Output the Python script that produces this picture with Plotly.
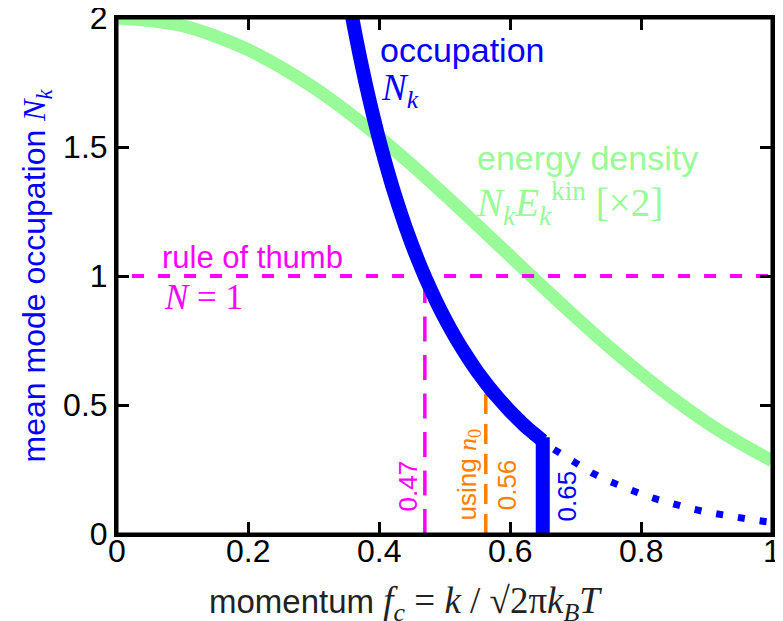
import plotly.graph_objects as go

# ---------------- data ----------------
x_ticks = [0, 0.2, 0.4, 0.6, 0.8, 1]
x_tick_labels = ["0", "0.2", "0.4", "0.6", "0.8", "1"]
y_ticks = [0, 0.5, 1, 1.5, 2]
y_tick_labels = ["0", "0.5", "1", "1.5", "2"]

# energy density N_k E_k^kin (x2), light green band
energy_x = [0.0, 0.05, 0.10, 0.15, 0.20, 0.25, 0.30, 0.35, 0.40, 0.45, 0.50,
            0.55, 0.60, 0.65, 0.70, 0.75, 0.80, 0.85, 0.90, 0.95, 1.00]
energy_y = [2.00, 1.99, 1.97, 1.93, 1.877, 1.81, 1.731, 1.64, 1.539, 1.431, 1.316,
            1.198, 1.078, 0.958, 0.841, 0.728, 0.622, 0.523, 0.433, 0.354, 0.284]

# occupation N_k, solid blue curve up to the cut-off
occ_x = [0.355, 0.36, 0.37, 0.38, 0.39, 0.40, 0.41, 0.42, 0.43, 0.44, 0.45,
         0.46, 0.47, 0.48, 0.49, 0.50, 0.51, 0.52, 0.53, 0.54, 0.55,
         0.56, 0.57, 0.58, 0.59, 0.60, 0.61, 0.62, 0.63, 0.64, 0.65]
occ_y = [2.06, 1.99, 1.861, 1.742, 1.633, 1.531, 1.438, 1.35, 1.27, 1.194, 1.124,
         1.059, 0.998, 0.942, 0.888, 0.838, 0.791, 0.747, 0.706, 0.667, 0.63,
         0.596, 0.563, 0.533, 0.504, 0.476, 0.451, 0.426, 0.403, 0.382, 0.361]

# vertical drop of the occupation at the cut-off 0.65
drop_x = [0.65, 0.65]
drop_y = [0.375, 0.0]

# occupation N_k beyond the cut-off, dotted blue
tail_x = [0.667, 0.70, 0.725, 0.75, 0.775, 0.80, 0.825, 0.85, 0.875, 0.90,
          0.925, 0.95, 0.975, 1.00]
tail_y = [0.328, 0.273, 0.237, 0.206, 0.179, 0.155, 0.134, 0.115, 0.099, 0.085,
          0.073, 0.062, 0.053, 0.045]

# rule of thumb N = 1 and the cut-offs
rule_x = [0.023, 1.0]
rule_y = [1.0, 1.0]
rule_cut_x = [0.47, 0.47]
rule_cut_y = [0.0, 1.0]
n0_cut_x = [0.563, 0.563]
n0_cut_y = [0.0, 0.59]

BLUE = "#0000ff"
GREEN = "#98fb98"
MAGENTA = "#ff00ff"
ORANGE = "#ff8000"
SANS = "Liberation Sans"
SERIF = "Liberation Serif"


def m(s, size=None):
    st = "font-family:%s" % SERIF
    if size:
        st += ";font-size:%dpx" % size
    return "<span style='%s'>%s</span>" % (st, s)


fig = go.Figure()
fig.add_trace(go.Scatter(x=energy_x, y=energy_y, mode="lines", line=dict(color=GREEN, width=13),
                         line_shape="spline", showlegend=False, hoverinfo="skip"))
fig.add_trace(go.Scatter(x=rule_x, y=rule_y, mode="lines",
                         line=dict(color=MAGENTA, width=4, dash="12px,14px"), showlegend=False))
fig.add_trace(go.Scatter(x=rule_cut_x, y=rule_cut_y, mode="lines",
                         line=dict(color=MAGENTA, width=3.5, dash="25px,13.5px"), showlegend=False))
fig.add_trace(go.Scatter(x=n0_cut_x, y=n0_cut_y, mode="lines",
                         line=dict(color=ORANGE, width=3.5, dash="20px,10px"), showlegend=False))
fig.add_trace(go.Scatter(x=tail_x, y=tail_y, mode="lines",
                         line=dict(color=BLUE, width=7, dash="7px,15px"), showlegend=False))
fig.add_trace(go.Scatter(x=occ_x, y=occ_y, mode="lines",
                         line=dict(color=BLUE, width=14, shape="spline", smoothing=0.6),
                         showlegend=False))
fig.add_trace(go.Scatter(x=drop_x, y=drop_y, mode="lines",
                         line=dict(color=BLUE, width=14), showlegend=False))

ann = []


def add(text, x, y, color, size, xanchor="left", yanchor="middle", angle=0, xref="x", yref="y",
        yshift=0):
    ann.append(dict(text=text, x=x, y=y, xref=xref, yref=yref, showarrow=False,
                    xanchor=xanchor, yanchor=yanchor, textangle=angle, yshift=yshift,
                    font=dict(family=SANS, size=size, color=color)))


# x tick labels, placed just under the axis line as in the reference
for v, lab in zip(x_ticks, x_tick_labels):
    add(lab, v, 0, "black", 32, xanchor="center", yanchor="top", yref="paper", yshift=3)

add("occupation", 0.398, 1.876, BLUE, 34)
add(m("<i>N</i><sub><i>k</i></sub>"), 0.400, 1.72, BLUE, 37)
add("energy density", 0.547, 1.457, GREEN, 34)
add(m("<i>N</i><sub><i>k</i></sub><i>E</i><sub><i>k</i></sub><sup>kin</sup> [×2]"), 0.545, 1.28, GREEN, 39)
add("rule of thumb", 0.066, 1.07, MAGENTA, 31)
add(m("<i>N</i> = 1"), 0.069, 0.915, MAGENTA, 35)
add("0.47", 0.444, 0.081, MAGENTA, 26, xanchor="center", yanchor="bottom", angle=-90)
add("using " + m("<i>n</i><sub>0</sub>"), 0.536, 0.043, ORANGE, 26, xanchor="center", yanchor="bottom", angle=-90)
add("0.56", 0.595, 0.085, ORANGE, 26, xanchor="center", yanchor="bottom", angle=-90)
add("0.65", 0.687, 0.043, BLUE, 26, xanchor="center", yanchor="bottom", angle=-90)
add("momentum " + m("<i>f</i><sub><i>c</i></sub> = <i>k</i> / √2π<i>k</i><sub><i>B</i></sub><i>T</i>", 37),
    0.44, -0.134, "#222222", 33, xanchor="center", yanchor="middle", xref="paper", yref="paper")

axis_common = dict(showline=True, linecolor="black", linewidth=3, mirror="ticks",
                   ticks="inside", ticklen=12, tickwidth=3, tickcolor="black",
                   showgrid=False, zeroline=False, automargin=False,
                   ticklabeloverflow="allow",
                   tickfont=dict(family=SANS, size=32, color="black"))

# the page body has an 8px default margin: the figure is sized so that it fits the 783x621 window
fig.update_layout(
    width=775, height=613, autosize=False,
    margin=dict(l=109, r=11, t=10, b=87),
    paper_bgcolor="white", plot_bgcolor="white",
    xaxis=dict(range=[0, 1], tickvals=x_ticks, ticktext=x_tick_labels,
               showticklabels=False, **axis_common),
    yaxis=dict(range=[0, 2], tickvals=y_ticks, ticktext=y_tick_labels,
               title=dict(text="mean mode occupation " + m("<i>N</i><sub><i>k</i></sub>"),
                          font=dict(family=SANS, size=32, color=BLUE), standoff=8),
               **axis_common),
    shapes=[dict(type="rect", xref="paper", yref="paper", x0=0, x1=1, y0=0, y1=1,
                 line=dict(color="black", width=3), fillcolor="rgba(0,0,0,0)", layer="above")],
    annotations=ann,
)

fig.write_html("out.html")
